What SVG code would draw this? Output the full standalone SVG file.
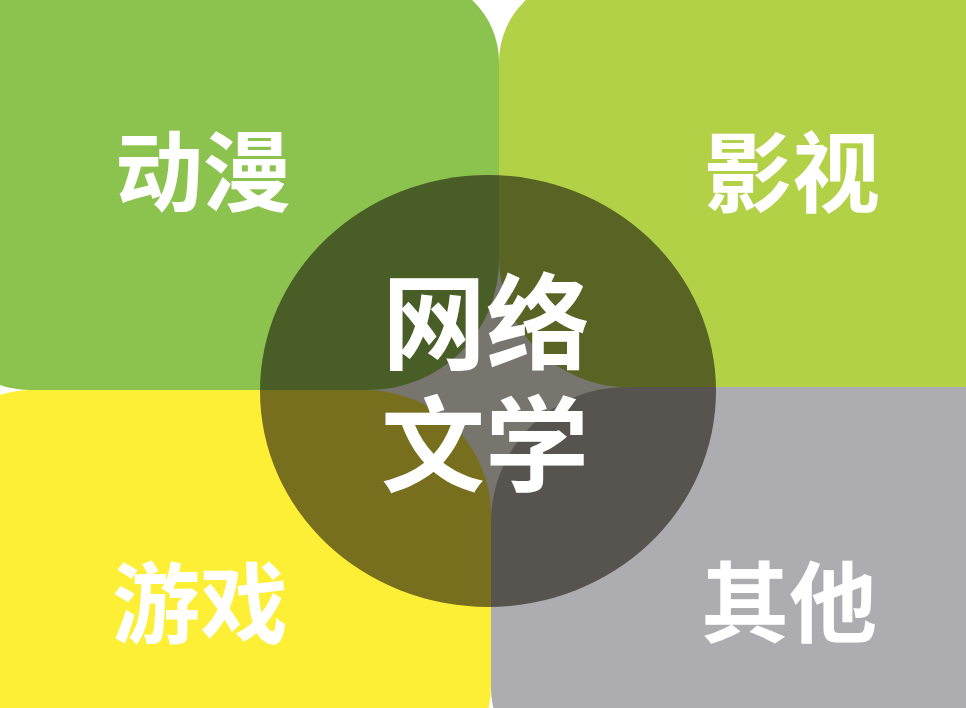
<svg xmlns="http://www.w3.org/2000/svg" width="966" height="708" viewBox="0 0 966 708">
  <style>
    .lbl { font-family: "Noto Sans CJK SC", "Noto Sans CJK JP", sans-serif; font-weight: 700; fill: #ffffff; text-anchor: middle; dominant-baseline: central; }
    .side { font-size: 88px; }
    .core { font-size: 104px; }
  </style>
  <rect x="0" y="0" width="966" height="708" fill="#ffffff"/>
  <g id="node-dongman">
    <path d="M -56 -23 H 414 A 85 85 0 0 1 499 62 V 260 A 130 130 0 0 1 369 390 H 29 A 85 85 0 0 1 -56 305 Z" fill="#8bc34e"/>
    <text class="lbl side" x="203" y="165">动漫</text>
  </g>
  <g id="node-yingshi">
    <path d="M 584 -23 H 1100 V 387.5 H 629 A 130 130 0 0 1 499 257.5 V 62 A 85 85 0 0 1 584 -23 Z" fill="#b2d147"/>
    <text class="lbl side" x="792" y="166">影视</text>
  </g>
  <g id="node-youxi">
    <path d="M -56 475 A 85 85 0 0 1 29 390 H 366 A 125 125 0 0 1 491 515 V 688 A 85 85 0 0 1 406 773 H -56 Z" fill="#fdef36"/>
    <text class="lbl side" x="200" y="597">游戏</text>
  </g>
  <g id="node-qita">
    <path d="M 626 387 H 1100 V 773 H 576 A 85 85 0 0 1 491 688 V 522 A 135 135 0 0 1 626 387 Z" fill="#adacb1"/>
    <text class="lbl side" x="789" y="596">其他</text>
  </g>
  <g id="node-center">
    <ellipse cx="488" cy="391" rx="228" ry="216" fill="#1e190d" fill-opacity="0.6"/>
    <text class="lbl core"><tspan x="486" y="316">网络</tspan><tspan x="485" y="438">文学</tspan></text>
  </g>
</svg>
